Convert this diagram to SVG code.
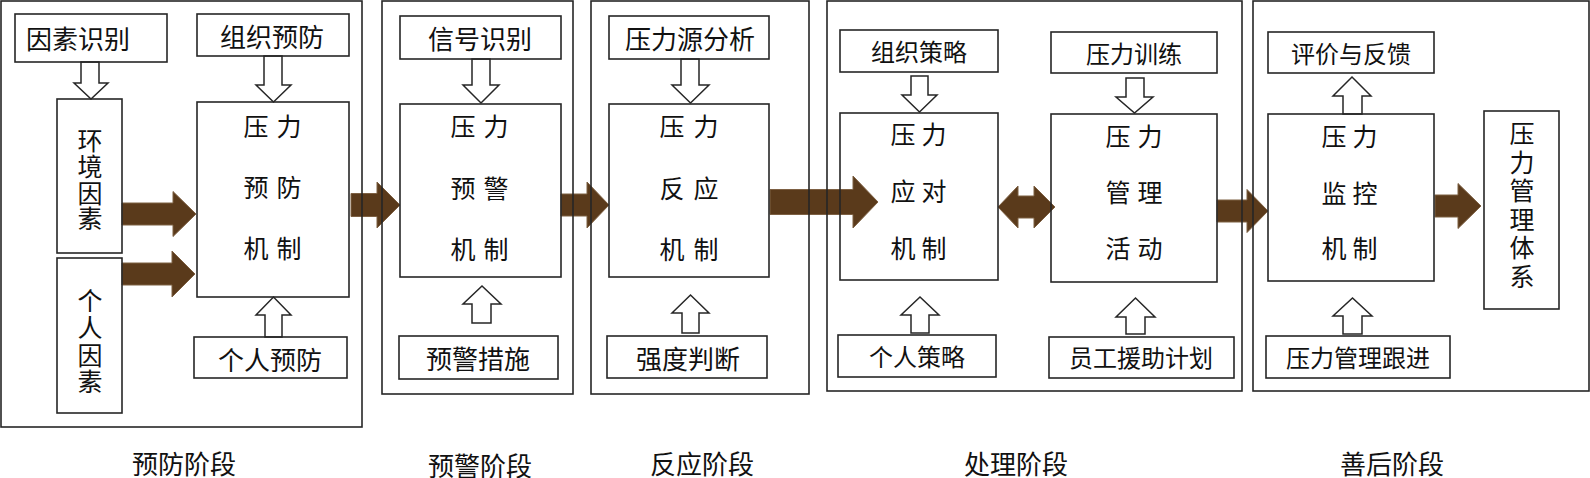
<svg xmlns="http://www.w3.org/2000/svg" width="1590" height="478" viewBox="0 0 1590 478">
<style>
.bx{fill:none;stroke:#262626;stroke-width:1.6}
.fr{fill:none;stroke:#262626;stroke-width:1.6}
.ha{fill:#fff;stroke:#262626;stroke-width:1.5;stroke-linejoin:miter}
.ba{fill:#5a3a1b;stroke:#7d6043;stroke-width:1}
text{font-family:"Noto Sans CJK SC","Noto Sans",sans-serif;fill:#111;dominant-baseline:central;text-anchor:middle}
.l26{font-size:26px}
.l24{font-size:24px}
.m{font-size:25px}
.st{font-size:26px}
</style>
<rect width="1590" height="478" fill="#fff"/>
<g id="connectors">
<polygon class="ba" points="122,203 173,203 173,191.5 196,214 173,236.5 173,225 122,225"/>
<polygon class="ba" points="122,263 172,263 172,251 195,274 172,297 172,285 122,285"/>
<polygon class="ba" points="351,193.5 377,193.5 377,182 400,205 377,228 377,216.5 351,216.5"/>
<polygon class="ba" points="561,194 587,194 587,182 609,205 587,228 587,216 561,216"/>
<polygon class="ba" points="770,189.5 853,189.5 853,176 878,202 853,228 853,214.5 770,214.5"/>
<polygon class="ba" points="998,207 1018,186 1018,196 1034,196 1034,186 1055,207 1034,228 1034,218 1018,218 1018,228"/>
<polygon class="ba" points="1217,200 1247,200 1247,189.5 1268,211 1247,232.5 1247,222 1217,222"/>
<polygon class="ba" points="1435,195 1458,195 1458,183.5 1481,206 1458,228.5 1458,217 1435,217"/>
<polygon class="ha" points="81,62 99,62 99,83 108,83 91,99 74,83 81,83"/>
<polygon class="ha" points="264,56 282,56 282,85 291,85 273.5,102 256,85 264,85"/>
<polygon class="ha" points="265,337 282,337 282,315 291,315 273.5,297 256,315 265,315"/>
<polygon class="ha" points="472,59 490,59 490,85 499,85 481,103 463,85 472,85"/>
<polygon class="ha" points="472,323 491,323 491,304 501,304 482,286 463,304 472,304"/>
<polygon class="ha" points="681,59 699,59 699,85 709,85 690.5,103 672,85 681,85"/>
<polygon class="ha" points="682,333 699,333 699,313 709,313 690.5,295 672,313 682,313"/>
<polygon class="ha" points="911,76 928,76 928,95 937,95 919.5,112 902,95 911,95"/>
<polygon class="ha" points="911,333 929,333 929,315 939,315 920,297 901,315 911,315"/>
<polygon class="ha" points="1126,78 1144,78 1144,97 1153,97 1134.5,113 1116,97 1126,97"/>
<polygon class="ha" points="1126,334 1145,334 1145,317 1155,317 1135.5,298 1116,317 1126,317"/>
<polygon class="ha" points="1343,114 1362,114 1362,96 1371,96 1352,77 1333,96 1343,96"/>
<polygon class="ha" points="1343,334 1362,334 1362,316 1372,316 1352.5,298 1333,316 1343,316"/>
</g>
<g id="stage1">
<rect class="fr" x="1" y="1" width="361" height="426"/>
<text class="st" x="184" y="462">预防阶段</text>
</g>
<g id="stage2">
<rect class="fr" x="382" y="1" width="191" height="393"/>
<text class="st" x="480" y="464">预警阶段</text>
</g>
<g id="stage3">
<rect class="fr" x="591" y="1" width="218" height="393"/>
<text class="st" x="702" y="462">反应阶段</text>
</g>
<g id="stage4">
<rect class="fr" x="827" y="1" width="415" height="390"/>
<text class="st" x="1016" y="462">处理阶段</text>
</g>
<g id="stage5">
<rect class="fr" x="1253" y="1" width="336" height="390"/>
<text class="st" x="1392" y="462">善后阶段</text>
</g>
<g id="n-yinsushibie"><rect class="bx" x="15" y="14" width="152" height="48"/><text class="l26" x="78" y="37">因素识别</text></g>
<g id="n-zuzhiyufang"><rect class="bx" x="197" y="14" width="152" height="42"/><text class="l26" x="272" y="35">组织预防</text></g>
<g id="n-huanjing"><rect class="bx" x="57" y="99" width="65" height="154"/><text class="m" x="90 90 90 90" y="139 165 192 217">环境因素</text></g>
<g id="n-geren"><rect class="bx" x="57" y="258" width="65" height="155"/><text class="m" x="90 90 90 90" y="299 326 354 380">个人因素</text></g>
<g id="n-yufangjizhi"><rect class="bx" x="197" y="102" width="152" height="195"/>
<text class="m" x="256 289" y="125">压力</text><text class="m" x="256 289" y="186">预防</text><text class="m" x="256 289" y="247">机制</text></g>
<g id="n-gerenyufang"><rect class="bx" x="194" y="337" width="153" height="41"/><text class="l26" x="270" y="358">个人预防</text></g>
<g id="n-xinhao"><rect class="bx" x="400" y="16" width="161" height="43"/><text class="l26" x="480" y="37">信号识别</text></g>
<g id="n-yujingjizhi"><rect class="bx" x="400" y="104" width="161" height="173"/>
<text class="m" x="463 496" y="125">压力</text><text class="m" x="463 496" y="187">预警</text><text class="m" x="463 496" y="248">机制</text></g>
<g id="n-yujingcuoshi"><rect class="bx" x="399" y="336" width="159" height="43"/><text class="l26" x="478" y="357">预警措施</text></g>
<g id="n-yuanfenxi"><rect class="bx" x="609" y="16" width="160" height="43"/><text class="l26" x="690" y="37">压力源分析</text></g>
<g id="n-fanyingjizhi"><rect class="bx" x="609" y="104" width="160" height="173"/>
<text class="m" x="672 706" y="125">压力</text><text class="m" x="672 706" y="187">反应</text><text class="m" x="672 706" y="248">机制</text></g>
<g id="n-qiangdu"><rect class="bx" x="607" y="336" width="160" height="42"/><text class="l26" x="688" y="357">强度判断</text></g>
<g id="n-zuzhicelue"><rect class="bx" x="840" y="30" width="158" height="42"/><text class="l24" x="919" y="50">组织策略</text></g>
<g id="n-yingduijizhi"><rect class="bx" x="840" y="113" width="158" height="167"/>
<text class="m" x="903 934" y="133">压力</text><text class="m" x="903 934" y="190">应对</text><text class="m" x="903 934" y="247">机制</text></g>
<g id="n-gerencelue"><rect class="bx" x="838" y="335" width="158" height="42"/><text class="l24" x="917" y="355">个人策略</text></g>
<g id="n-xunlian"><rect class="bx" x="1051" y="32" width="166" height="41"/><text class="l24" x="1134" y="52">压力训练</text></g>
<g id="n-guanlihuodong"><rect class="bx" x="1051" y="114" width="166" height="168"/>
<text class="m" x="1118 1150" y="135">压力</text><text class="m" x="1118 1150" y="191">管理</text><text class="m" x="1118 1150" y="247">活动</text></g>
<g id="n-yuangong"><rect class="bx" x="1049" y="337" width="185" height="41"/><text class="l24" x="1141" y="356">员工援助计划</text></g>
<g id="n-pingjia"><rect class="bx" x="1268" y="32" width="166" height="41"/><text class="l24" x="1351" y="52">评价与反馈</text></g>
<g id="n-jiankong"><rect class="bx" x="1268" y="114" width="166" height="167"/>
<text class="m" x="1334 1365" y="135">压力</text><text class="m" x="1334 1365" y="192">监控</text><text class="m" x="1334 1365" y="247">机制</text></g>
<g id="n-genjin"><rect class="bx" x="1266" y="336" width="184" height="42"/><text class="l24" x="1358" y="356">压力管理跟进</text></g>
<g id="n-tixi"><rect class="bx" x="1484" y="111" width="75" height="198"/>
<text class="m" x="1522 1522 1522 1522 1522 1522" y="132 161 189 218 246 275">压力管理体系</text></g>
</svg>
